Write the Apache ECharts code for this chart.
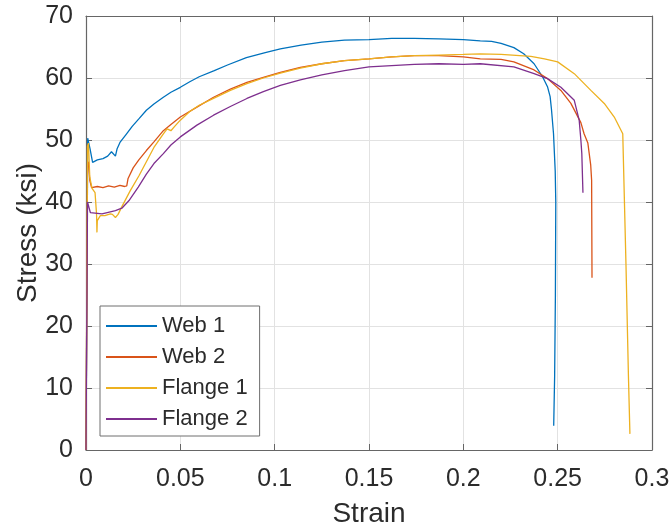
<!DOCTYPE html>
<html>
<head>
<meta charset="utf-8">
<script src="https://cdn.jsdelivr.net/npm/echarts@6/dist/echarts.min.js"></script>
<style>html,body{margin:0;padding:0;background:#fff}#c{width:671px;height:529px}</style>
</head>
<body>
<div id="c"></div>
<script>
var seriesNames = ['Web 1', 'Web 2', 'Flange 1', 'Flange 2'];
var xTicks = [0, 0.05, 0.1, 0.15, 0.2, 0.25, 0.3];
var yTicks = [0, 10, 20, 30, 40, 50, 60, 70];

var web1Strain = [0, 0.0009, 0.0014, 0.0022, 0.0035, 0.006, 0.009, 0.0115, 0.0135, 0.0145, 0.0156, 0.0165, 0.018, 0.021, 0.0245, 0.028, 0.032, 0.036, 0.041, 0.045, 0.05, 0.055, 0.06, 0.068, 0.075, 0.085, 0.095, 0.103, 0.114, 0.125, 0.137, 0.15, 0.162, 0.174, 0.187, 0.2, 0.209, 0.215, 0.22, 0.2268, 0.232, 0.2375, 0.242, 0.2446, 0.246, 0.2467, 0.2478, 0.2487, 0.249, 0.2488, 0.2484, 0.2479];
var web1Stress = [0, 50.3, 50.5, 48.5, 46.4, 46.8, 47.0, 47.4, 48.1, 47.9, 47.4, 48.6, 49.6, 50.8, 52.2, 53.4, 54.8, 55.8, 56.9, 57.7, 58.5, 59.4, 60.2, 61.2, 62.1, 63.3, 64.1, 64.7, 65.3, 65.8, 66.1, 66.2, 66.4, 66.4, 66.3, 66.2, 66.0, 65.9, 65.6, 64.9, 63.9, 62.3, 60.2, 58.6, 57.0, 55.0, 51.0, 45.0, 40.0, 25.0, 12.0, 3.9];

var web2Strain = [0, 0.0008, 0.0013, 0.002, 0.003, 0.006, 0.009, 0.012, 0.015, 0.018, 0.0205, 0.0216, 0.0223, 0.025, 0.028, 0.032, 0.036, 0.041, 0.045, 0.05, 0.0588, 0.0676, 0.0765, 0.0853, 0.094, 0.103, 0.1136, 0.125, 0.137, 0.15, 0.162, 0.174, 0.187, 0.2, 0.209, 0.22, 0.2268, 0.2375, 0.2446, 0.2517, 0.257, 0.2623, 0.264, 0.266, 0.2675, 0.268, 0.2682];
var web2Stress = [0, 46.0, 46.5, 43.5, 42.3, 42.5, 42.3, 42.6, 42.4, 42.7, 42.5, 42.6, 43.8, 45.5, 46.8, 48.3, 49.7, 51.5, 52.5, 53.7, 55.3, 56.9, 58.2, 59.3, 60.1, 60.9, 61.7, 62.3, 62.8, 63.1, 63.4, 63.6, 63.6, 63.4, 63.1, 63.0, 62.6, 61.3, 59.9, 58.0, 55.9, 52.8, 51.0, 49.5, 46.0, 43.5, 27.8];

var flange1Strain = [0, 0.0008, 0.0013, 0.002, 0.0032, 0.0048, 0.0056, 0.0058, 0.006, 0.0076, 0.01, 0.0129, 0.014, 0.0156, 0.017, 0.0191, 0.0234, 0.028, 0.032, 0.036, 0.041, 0.043, 0.045, 0.047, 0.05, 0.055, 0.06, 0.0676, 0.0765, 0.0853, 0.094, 0.103, 0.1136, 0.125, 0.137, 0.15, 0.162, 0.174, 0.187, 0.2, 0.209, 0.22, 0.2358, 0.243, 0.25, 0.2588, 0.2676, 0.2747, 0.28, 0.2845, 0.2862, 0.2875, 0.2883];
var flange1Stress = [0, 49.0, 49.5, 44.0, 42.2, 41.5, 38.0, 35.1, 37.0, 37.8, 37.8, 38.1, 38.0, 37.5, 38.0, 39.3, 41.8, 44.2, 46.5, 48.8, 51.0, 51.8, 51.5, 52.2, 53.2, 54.6, 55.6, 56.7, 58.0, 59.1, 60.0, 60.8, 61.6, 62.3, 62.8, 63.1, 63.4, 63.6, 63.7, 63.8, 63.9, 63.8, 63.5, 63.1, 62.6, 60.7, 58.0, 55.9, 53.7, 51.0, 30.0, 12.0, 2.6];

var flange2Strain = [0, 0.0008, 0.0015, 0.0023, 0.0085, 0.0156, 0.019, 0.0227, 0.0277, 0.032, 0.036, 0.041, 0.045, 0.05, 0.0588, 0.0676, 0.0765, 0.0853, 0.094, 0.103, 0.1136, 0.125, 0.137, 0.15, 0.162, 0.174, 0.187, 0.2, 0.209, 0.2268, 0.2375, 0.2446, 0.2517, 0.2588, 0.2614, 0.2623, 0.2628, 0.2634];
var flange2Stress = [0, 40.0, 39.2, 38.3, 38.1, 38.6, 39.0, 40.2, 42.4, 44.5, 46.2, 47.8, 49.2, 50.5, 52.4, 54.0, 55.4, 56.7, 57.8, 58.8, 59.7, 60.5, 61.2, 61.8, 62.0, 62.2, 62.3, 62.2, 62.3, 61.8, 60.7, 59.9, 58.5, 56.4, 53.2, 50.0, 47.8, 41.5];

var colors = ['#0072BD', '#D95319', '#EDB120', '#7E2F8E'];

function pairs(xs, ys) { return xs.map(function (x, i) { return [x, ys[i]]; }); }
var allData = [
  pairs(web1Strain, web1Stress),
  pairs(web2Strain, web2Stress),
  pairs(flange1Strain, flange1Stress),
  pairs(flange2Strain, flange2Stress)
];

var FONT = 'Liberation Sans';
var axisColor = '#666666';
var textColor = '#2b2b2b';

function mkAxisBase(extra) {
  var base = {
    type: 'value',
    axisLine: { show: true, onZero: false, lineStyle: { color: axisColor, width: 1.2 } },
    axisTick: { show: true, inside: true, length: 6, lineStyle: { color: axisColor } },
    splitLine: { show: false },
    axisLabel: { show: false }
  };
  for (var k in extra) base[k] = extra[k];
  return base;
}

var chart = echarts.init(document.getElementById('c'), null, { renderer: 'canvas' });
chart.setOption({
  animation: false,
  backgroundColor: '#ffffff',
  color: colors,
  grid: { left: 86, right: 19, top: 16, bottom: 79, containLabel: false, outerBoundsMode: 'none' },
  xAxis: [
    mkAxisBase({
      position: 'bottom', min: xTicks[0], max: xTicks[xTicks.length - 1], interval: 0.05,
      name: 'Strain', nameLocation: 'middle', nameGap: 50, nameMoveOverlap: false,
      nameTextStyle: { fontFamily: FONT, fontSize: 28, color: textColor },
      splitLine: { show: true, lineStyle: { color: '#e2e2e2', width: 1 } },
      axisLabel: { show: true, margin: 17, fontFamily: FONT, fontSize: 25, color: textColor,
        formatter: function (v) { return String(Math.round(v * 100) / 100); } }
    }),
    mkAxisBase({ position: 'top', min: xTicks[0], max: xTicks[xTicks.length - 1], interval: 0.05 })
  ],
  yAxis: [
    mkAxisBase({
      position: 'left', min: yTicks[0], max: yTicks[yTicks.length - 1], interval: 10,
      name: 'Stress (ksi)', nameLocation: 'middle', nameGap: 44, nameRotate: 90, nameMoveOverlap: false,
      nameTextStyle: { fontFamily: FONT, fontSize: 28, color: textColor },
      splitLine: { show: true, lineStyle: { color: '#e2e2e2', width: 1 } },
      axisLabel: { show: true, margin: 13, fontFamily: FONT, fontSize: 25, color: textColor }
    }),
    mkAxisBase({ position: 'right', min: yTicks[0], max: yTicks[yTicks.length - 1], interval: 10 })
  ],
  legend: {
    data: seriesNames,
    orient: 'vertical',
    left: 100, top: 306,
    padding: [9, 12, 6, 6],
    itemGap: 9,
    itemWidth: 51, itemHeight: 2,
    icon: 'rect',
    backgroundColor: '#ffffff',
    borderColor: '#6e6e6e', borderWidth: 1, borderRadius: 0,
    textStyle: { fontFamily: FONT, fontSize: 22, color: textColor, lineHeight: 22, padding: [0, 0, 0, 0] }
  },
  series: seriesNames.map(function (n, i) {
    return {
      name: n, type: 'line', xAxisIndex: 0, yAxisIndex: 0,
      data: allData[i], showSymbol: false, symbol: 'none',
      lineStyle: { width: 1.3, color: colors[i] },
      itemStyle: { color: colors[i] },
      z: 2 + i, clip: true
    };
  })
});
</script>
</body>
</html>
